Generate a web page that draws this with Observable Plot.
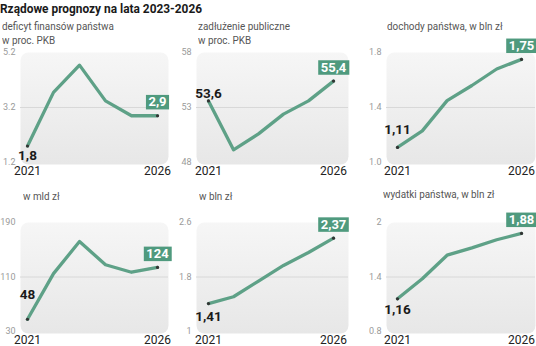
<!DOCTYPE html>
<html><head><meta charset="utf-8">
<script src="https://cdn.jsdelivr.net/npm/d3@7"></script>
<script src="https://cdn.jsdelivr.net/npm/@observablehq/plot@0.6"></script>
<style>
body{margin:0;background:#fff;}
#wrap{position:relative;width:536px;height:346px;overflow:hidden;font-family:Roboto,sans-serif;background:#fff;}
.t{position:absolute;white-space:nowrap;transform-origin:0 0;}
.main{left:0;top:1px;font-size:12.5px;font-weight:bold;color:#1a1a1a;transform:scaleX(0.95);}
.pt{font-size:11px;color:#555;line-height:14px;transform:scaleX(0.9);}
.pan{position:absolute;overflow:visible;}
</style></head><body><div id="wrap"></div>
<script>
const title = "Rządowe prognozy na lata 2023-2026";
const years = [2021, 2022, 2023, 2024, 2025, 2026];
const deficitPct = [1.8, 3.75, 4.74, 3.44, 2.9, 2.9];
const debtPct = [53.6, 49.15, 50.6, 52.4, 53.6, 55.4];
const revenueBln = [1.11, 1.23, 1.45, 1.56, 1.68, 1.75];
const deficitMld = [48, 115, 162, 128, 117, 124];
const budgetBln = [1.41, 1.51, 1.74, 1.97, 2.16, 2.37];
const spendingBln = [1.16, 1.38, 1.64, 1.72, 1.81, 1.88];
const panelTitles = [
  ["deficyt finansów państwa", "w proc. PKB"],
  ["zadłużenie publiczne", "w proc. PKB"],
  ["dochody państwa, w bln zł"],
  ["w mld zł"],
  ["w bln zł"],
  ["wydatki państwa, w bln zł"]
];
const tickValues = [[1.2, 3.2, 5.2], [48, 53, 58], [1.0, 1.4, 1.8], [30, 110, 190], [1, 1.8, 2.6], [0.8, 1.4, 2]];
const tickLabels = [["1.2", "3.2", "5.2"], ["48", "53", "58"], ["1.0", "1.4", "1.8"], ["30", "110", "190"], ["1", "1.8", "2.6"], ["0.8", "1.4", "2"]];
const decimals = [1, 1, 2, 0, 2, 2];
const series = [deficitPct, debtPct, revenueBln, deficitMld, budgetBln, spendingBln];

// layout (positions/styles)
const cols = [
  {left: 0, width: 180, mL: 20, mR: 12, iL: 7, iR: 11},
  {left: 175, width: 180, mL: 21, mR: 7, iL: 12, iR: 15},
  {left: 355, width: 181, mL: 31, mR: 1, iL: 11, iR: 14}
];
const rows = [{top: 0, h: 176, mB: 12}, {top: 170, h: 176, mB: 13}];
const titlePos = [[2, 20], [198, 20], [387, 20], [23, 190], [199, 190], [383, 188]];
const startDy = [10, -7, -18, -25, 13, 11];
const LINE = "#5ea187", BOX = "#4f9a7e";
const FONT = "Roboto, sans-serif";

const wrap = document.getElementById("wrap");
const mt = document.createElement("div");
mt.className = "t main"; mt.textContent = title; wrap.appendChild(mt);

const fmt = (v, d) => d3.format(`.${d}f`)(v).replace(".", ",");

series.forEach((vals, i) => {
  const col = cols[i % 3], row = rows[Math.floor(i / 3)];
  const data = years.map((yr, k) => ({year: yr, value: vals[k]}));
  const first = data[0], last = data[data.length - 1];
  const ticks = tickValues[i];
  const svg = Plot.plot({
    width: col.width, height: row.h,
    marginLeft: col.mL, marginRight: col.mR, marginTop: 52, marginBottom: row.mB,
    insetLeft: col.iL, insetRight: col.iR, insetTop: 0, insetBottom: 2,
    x: {domain: [2021, 2026], axis: null},
    y: {domain: [ticks[0], ticks[2]], axis: null},
    style: {background: "transparent", overflow: "visible", fontFamily: FONT},
    marks: [
      Plot.frame({fill: `url(#bg${i})`, stroke: "none", rx: 8}),
      Plot.gridY([ticks[1]], {stroke: "#d8d8d8", strokeOpacity: 1}),
      Plot.axisY(ticks, {label: null, tickSize: 0, tickPadding: 5, tickFormat: d => tickLabels[i][ticks.indexOf(d)], fontSize: 9, fill: "#9a9a9a"}),
      Plot.axisX([2021, 2026], {label: null, tickSize: 0, tickPadding: 2, tickFormat: d => String(d), fontSize: 12, fill: "#222"}),
      Plot.line(data, {x: "year", y: "value", stroke: LINE, strokeWidth: 3.3}),
      Plot.dot([first, last], {x: "year", y: "value", r: 1.6, fill: "#333"}),
      Plot.text([first], {x: "year", y: "value", text: d => fmt(d.value, decimals[i]), dy: startDy[i], fontSize: 13.5, fontWeight: "bold", fill: "#1a1a1a"}),
      Plot.text([last], {x: "year", y: "value", text: d => fmt(d.value, decimals[i]), dy: -13.5, fontSize: 13, fontWeight: "bold", fill: "#ffffff"})
    ]
  });
  const g = d3.select(svg).insert("defs", ":first-child").append("linearGradient")
    .attr("id", `bg${i}`).attr("x1", 0).attr("y1", 0).attr("x2", 0).attr("y2", 1);
  g.append("stop").attr("offset", "0%").attr("stop-color", "#f6f6f6");
  g.append("stop").attr("offset", "100%").attr("stop-color", "#e7e7e7");
  const holder = document.createElement("div");
  holder.className = "pan";
  holder.style.left = col.left + "px"; holder.style.top = row.top + "px";
  holder.appendChild(svg);
  wrap.appendChild(holder);
  // green box behind the end-value label (sized from the rendered text)
  const textGroups = svg.querySelectorAll('g[aria-label="text"]');
  const endGroup = textGroups[textGroups.length - 1];
  if (endGroup) {
    endGroup.querySelectorAll("text").forEach(t => {
      const bb = t.getBBox();
      const r = document.createElementNS("http://www.w3.org/2000/svg", "rect");
      r.setAttribute("x", bb.x - 2.5); r.setAttribute("y", bb.y + 0.5);
      r.setAttribute("width", bb.width + 5); r.setAttribute("height", bb.height - 0.5);
      r.setAttribute("fill", BOX);
      if (t.getAttribute("transform")) r.setAttribute("transform", t.getAttribute("transform"));
      t.parentNode.insertBefore(r, t);
    });
  }
  const tp = titlePos[i];
  const td = document.createElement("div");
  td.className = "t pt";
  td.style.left = tp[0] + "px"; td.style.top = tp[1] + "px";
  td.innerHTML = panelTitles[i].join("<br>");
  wrap.appendChild(td);
});
</script></body></html>
